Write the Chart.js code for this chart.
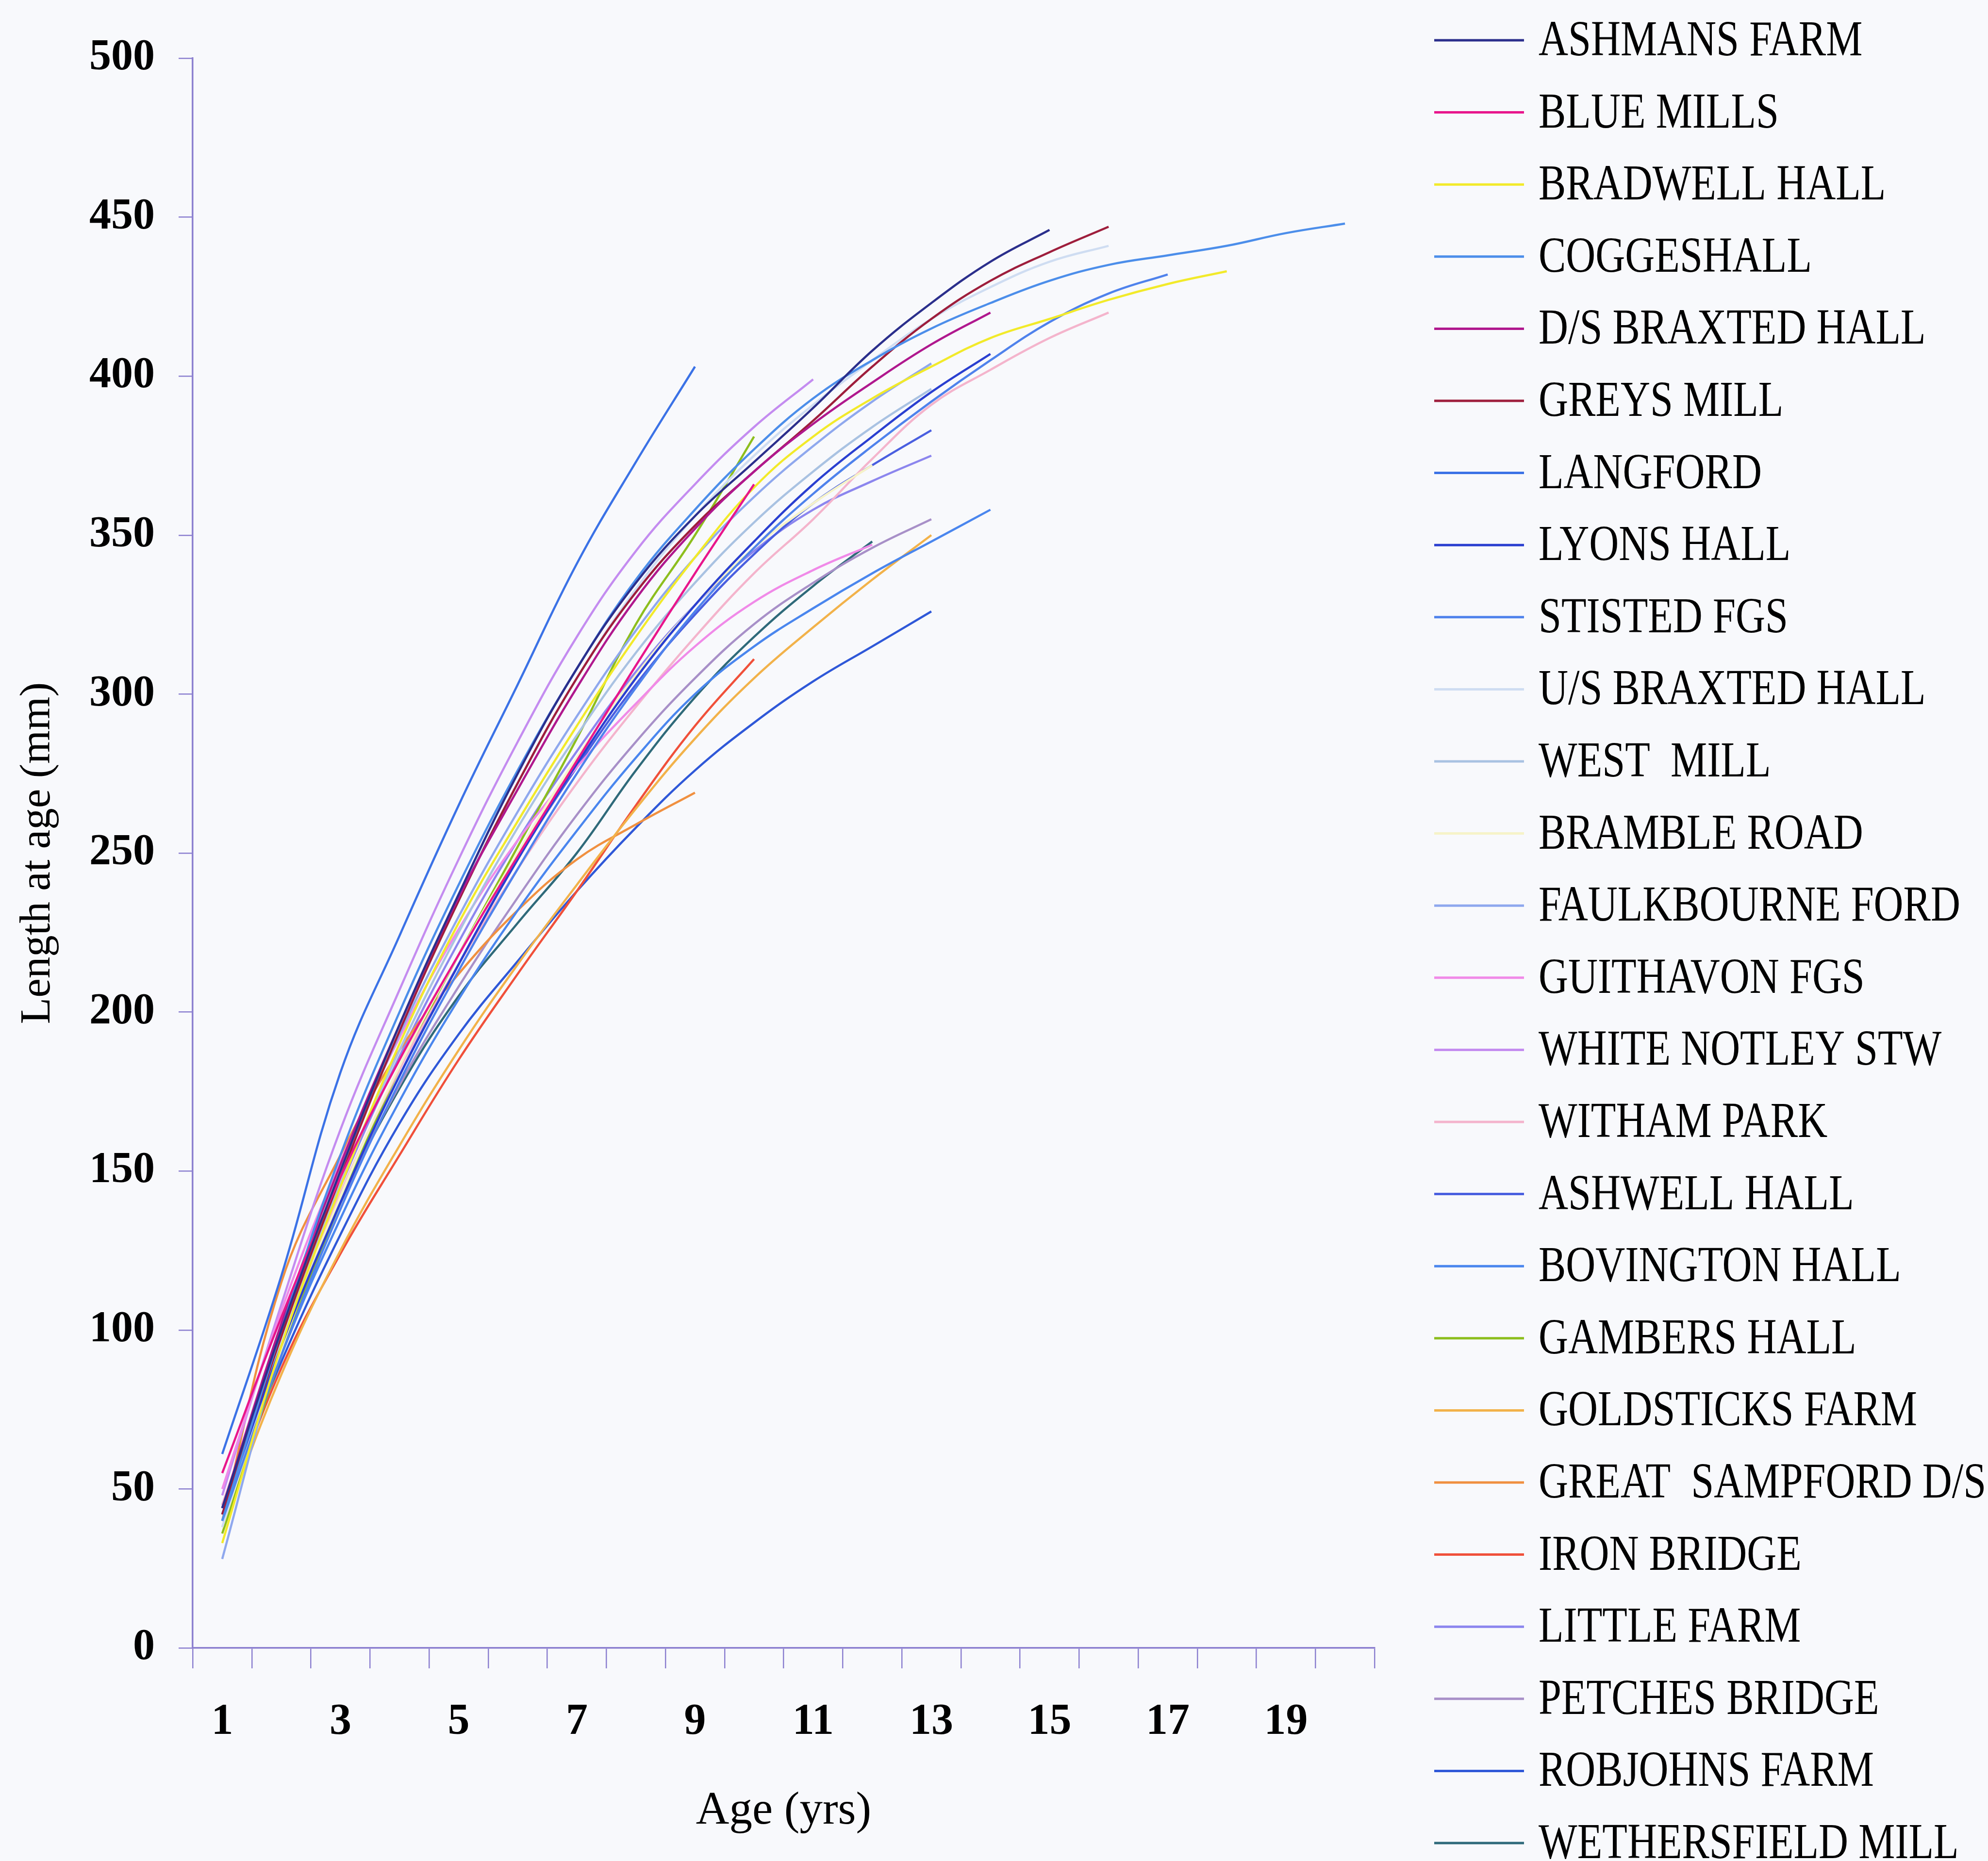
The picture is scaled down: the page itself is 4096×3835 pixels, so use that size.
<!DOCTYPE html>
<html>
<head>
<meta charset="utf-8">
<script src="https://cdn.jsdelivr.net/npm/chart.js@4.4.1/dist/chart.umd.min.js"></script>
<style>
  html, body { margin: 0; padding: 0; background: #f8f9fc; }
  #wrap { width: 4096px; height: 3835px; }
</style>
</head>
<body>
<div id="wrap"><canvas id="myChart" width="4096" height="3835"></canvas></div>
<script>
// ---- data (length at age, mm) ----
const ages = ['1','2','3','4','5','6','7','8','9','10','11','12','13','14','15','16','17','18','19','20'];

const ashmansFarm      = [44,100,150,196,237,275,308,335,356,373,390,408,423,436,446];
const blueMills        = [55,104,148,185,218,249,279,309,338,366];
const bradwellHall     = [33,95,145,190,228,260,290,318,343,365,381,393,403,412,418,424,429,433];
const coggeshall       = [40,100,155,200,240,276,308,336,358,377,393,405,415,423,430,435,438,441,445,448];
const dsBraxtedHall    = [44,102,152,196,236,270,302,330,352,370,385,398,410,420];
const greysMill        = [42,98,148,194,235,272,305,332,353,370,386,403,418,430,439,447];
const langford         = [61,117,181,224,265,303,341,373,403];
const lyonsHall        = [42,95,140,180,215,248,278,305,328,348,366,381,395,407];
const stistedFgs       = [40,92,138,178,213,245,275,302,326,346,363,378,392,405,417,426,432];
const usBraxtedHall    = [38,97,150,196,236,272,305,333,356,375,391,405,418,428,436,441];
const westMill         = [40,96,146,188,225,258,287,313,335,354,370,384,396];
const brambleRoad      = [38,94,142,183,218,250,280,306,328,346,360,372];
const faulkbourneFord  = [28,96,150,193,230,263,293,320,343,362,378,392,404];
const guithavonFgs     = [50,106,153,192,226,254,277,297,315,329,339,347];
const whiteNotleyStw   = [48,108,163,207,248,285,318,345,366,384,399];
const withamPark       = [45,98,143,182,215,245,272,296,318,338,355,374,391,402,412,420];
const ashwellHall      = [42,95,140,180,215,248,277,303,325,344,360,372,383];
const bovingtonHall    = [40,92,135,172,204,232,257,280,300,315,327,338,348,358];
const gambersHall      = [36,92,140,182,218,252,286,322,350,381];
const goldsticksFarm   = [38,86,125,158,188,215,240,264,286,305,321,336,350];
const greatSampfordDs  = [40,115,155,188,212,232,248,259,269];
const ironBridge       = [40,88,124,155,185,212,238,265,290,311];
const littleFarm       = [42,98,145,186,222,254,282,307,328,345,358,367,375];
const petchesBridge    = [45,97,140,177,208,236,262,285,305,322,335,346,355];
const robjohnsFarm     = [44,90,130,165,193,216,238,258,276,291,304,315,326];
const wethersfieldMill = [44,96,140,176,205,228,250,276,299,318,334,348];

const siteNames = ['ASHMANS FARM','BLUE MILLS','BRADWELL HALL','COGGESHALL','D/S BRAXTED HALL','GREYS MILL',
  'LANGFORD','LYONS HALL','STISTED FGS','U/S BRAXTED HALL','WEST  MILL','BRAMBLE ROAD','FAULKBOURNE FORD',
  'GUITHAVON FGS','WHITE NOTLEY STW','WITHAM PARK','ASHWELL HALL','BOVINGTON HALL','GAMBERS HALL',
  'GOLDSTICKS FARM','GREAT  SAMPFORD D/S','IRON BRIDGE','LITTLE FARM','PETCHES BRIDGE','ROBJOHNS FARM',
  'WETHERSFIELD MILL'];
const siteValues = [ashmansFarm, blueMills, bradwellHall, coggeshall, dsBraxtedHall, greysMill,
  langford, lyonsHall, stistedFgs, usBraxtedHall, westMill, brambleRoad, faulkbourneFord,
  guithavonFgs, whiteNotleyStw, withamPark, ashwellHall, bovingtonHall, gambersHall,
  goldsticksFarm, greatSampfordDs, ironBridge, littleFarm, petchesBridge, robjohnsFarm,
  wethersfieldMill];
const siteColors = ['#2b2f8c','#e8168c','#f2ea2a','#4c8eea','#b0188e','#9e1e3c',
  '#3b72e6','#2a3fd0','#4f82ec','#cfddf2','#a9c2e2','#f6f3c8','#8fa8ee',
  '#f08ae8','#c48cf0','#f4b4cc','#4a5fe0','#4a86ee','#8dbe1e',
  '#f2b24a','#f09040','#f0503a','#8c86ee','#a890c8','#2f58d8',
  '#2f6a7a'];

//----- legend drawn at the right side -----
const sideLegend = {
  id: 'sideLegend',
  afterDraw(chart) {
    const ctx = chart.ctx;
    ctx.save();
    ctx.font = '103px "Liberation Serif"';
    ctx.textBaseline = 'middle';
    ctx.fillStyle = '#000';
    chart.data.datasets.forEach((ds, i) => {
      const y = 83 + i * 148.6;
      ctx.strokeStyle = ds.borderColor;
      ctx.lineWidth = 5;
      ctx.beginPath();
      ctx.moveTo(2955, y);
      ctx.lineTo(3140, y);
      ctx.stroke();
      ctx.save();
      ctx.translate(3170, y + 4);
      ctx.scale(0.82, 1);
      ctx.fillText(ds.label, 0, 0);
      ctx.restore();
    });
    ctx.restore();
  }
};

const axisColor = '#8c80d0';
const ctx = document.getElementById('myChart').getContext('2d');
const sensorsChart = new Chart(ctx, {
  type: 'line',
  data: {
    labels: ages,
    datasets: siteNames.map((name, i) => ({
      label: name,
      data: siteValues[i],
      borderColor: siteColors[i],
      backgroundColor: siteColors[i],
      borderWidth: 4.5,
      pointRadius: 0,
      tension: 0.4,
      fill: false
    }))
  },
  options: {
    responsive: false,
    devicePixelRatio: 1,
    animation: false,
    layout: { padding: { left: 0, top: 120, right: 4096 - 2832, bottom: 0 } },
    plugins: {
      legend: { display: false },
      tooltip: { enabled: false }
    },
    scales: {
      x: {
        offset: true,
        grid: { offset: true, drawOnChartArea: false, drawTicks: true, tickLength: 42, color: axisColor, lineWidth: 2.5 },
        border: { display: true, color: axisColor, width: 3.5 },
        ticks: {
          autoSkip: false,
          maxRotation: 0,
          padding: 58,
          color: '#000',
          font: { family: 'Liberation Serif', size: 90, weight: 'bold' },
          callback: function (val, idx) { return idx % 2 === 0 ? this.getLabelForValue(val) : ''; }
        },
        title: {
          display: true,
          text: 'Age (yrs)',
          color: '#000',
          font: { family: 'Liberation Serif', size: 95 },
          padding: { top: 0, bottom: 45 }
        },
        afterFit: s => { s.height = 3835 - 3396; }
      },
      y: {
        min: 0,
        max: 500,
        grid: { drawOnChartArea: false, drawTicks: true, tickLength: 29, color: axisColor, lineWidth: 2.5 },
        border: { display: true, color: axisColor, width: 3.5 },
        ticks: {
          stepSize: 50,
          padding: 49,
          color: '#000',
          font: { family: 'Liberation Serif', size: 90, weight: 'bold' }
        },
        title: {
          display: true,
          text: 'Length at age (mm)',
          color: '#000',
          font: { family: 'Liberation Serif', size: 89 },
          padding: { top: 25, bottom: 0 }
        },
        afterFit: s => { s.width = 397; }
      }
    }
  },
  plugins: [sideLegend]
});
</script>
</body>
</html>
